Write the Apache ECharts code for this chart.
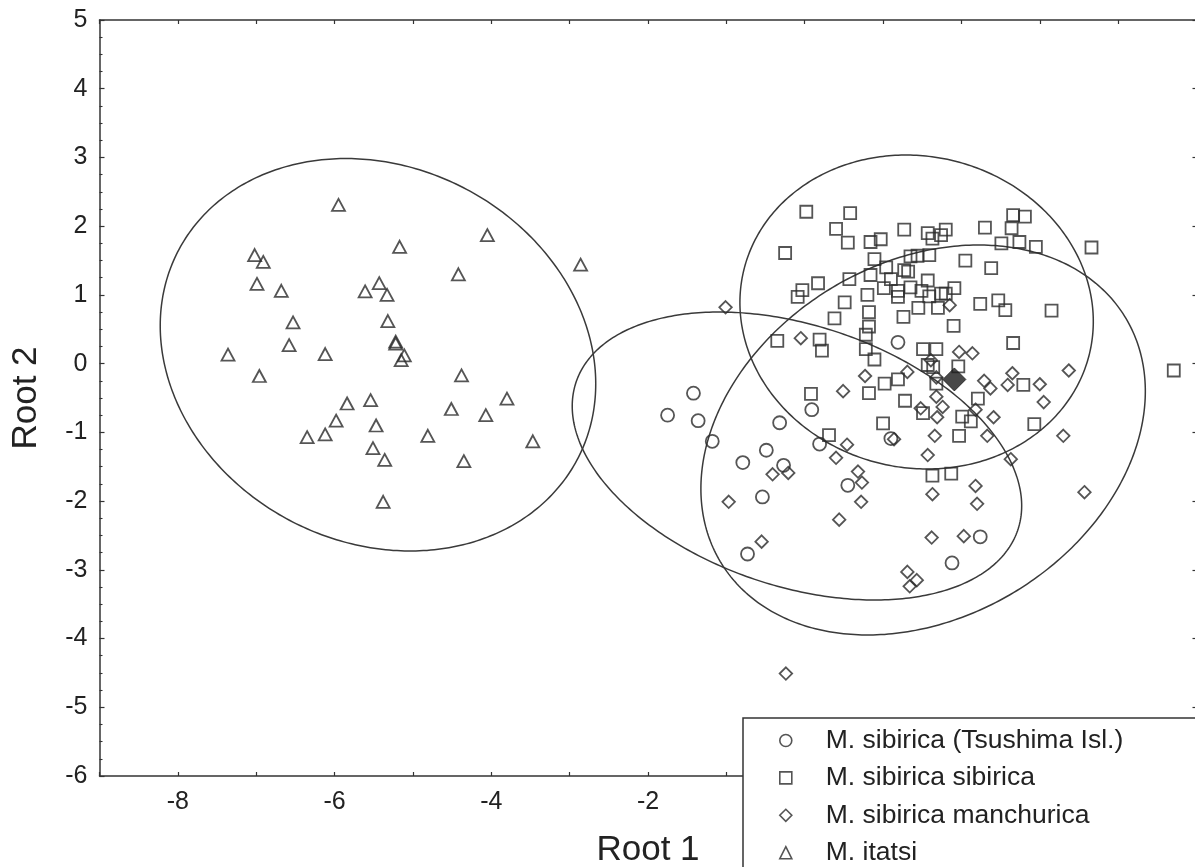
<!DOCTYPE html>
<html>
<head>
<meta charset="utf-8">
<script src="https://cdn.jsdelivr.net/npm/echarts@6/dist/echarts.min.js"></script>
<style>html,body{margin:0;padding:0;background:#fff}#c{width:1195px;height:867px}</style>
</head>
<body>
<div id="c"></div>
<script>
const seriesNames = ['M. sibirica (Tsushima Isl.)', 'M. sibirica sibirica', 'M. sibirica manchurica', 'M. itatsi'];

const tsushimaPoints = [[-1.42,-0.43],[-1.75,-0.75],[-1.36,-0.83],[-1.18,-1.13],[-0.32,-0.86],[-0.49,-1.26],[-0.79,-1.44],[-0.27,-1.48],[-0.54,-1.94],[-0.73,-2.77],[0.09,-0.67],[1.19,0.31],[0.19,-1.17],[1.10,-1.09],[0.55,-1.77],[2.24,-2.52],[1.88,-2.90]];

const sibiricaPoints = [[0.02,2.21],[0.58,2.19],[0.40,1.96],[0.55,1.76],[0.84,1.77],[0.97,1.81],[-0.25,1.61],[0.89,1.52],[1.04,1.40],[0.84,1.29],[1.10,1.23],[0.57,1.23],[0.17,1.17],[-0.03,1.07],[-0.09,0.97],[1.01,1.10],[1.19,1.06],[0.80,1.00],[1.19,0.97],[0.51,0.89],[0.82,0.75],[0.38,0.66],[0.82,0.54],[-0.35,0.33],
[1.27,1.95],[1.57,1.90],[1.63,1.82],[1.74,1.87],[1.80,1.95],[2.30,1.98],[2.66,2.16],[2.81,2.14],[2.64,1.97],[2.51,1.75],[2.74,1.77],[2.95,1.70],[3.66,1.69],[1.35,1.56],[1.44,1.57],[1.59,1.58],[2.05,1.50],[2.38,1.39],[1.27,1.36],[1.32,1.34],[1.57,1.21],[1.35,1.11],[1.49,1.06],[1.59,0.98],[1.74,1.02],[1.91,1.10],[1.80,1.02],[2.24,0.87],[2.47,0.92],[2.56,0.78],[3.15,0.77],[1.45,0.81],[1.70,0.81],[1.26,0.68],[1.90,0.55],[2.66,0.30],[1.51,0.21],[1.68,0.21],[1.57,-0.02],[1.64,-0.05],[1.96,-0.04],[2.79,-0.31],[2.21,-0.51],[4.71,-0.10],[1.28,-0.54],[1.68,-0.29],
[0.19,0.35],[0.22,0.19],[0.78,0.42],[0.78,0.21],[0.89,0.06],[0.08,-0.44],[1.02,-0.29],[1.19,-0.23],[0.82,-0.43],[1.51,-0.72],[2.01,-0.77],[2.12,-0.84],[1.00,-0.87],[0.31,-1.04],[1.97,-1.05],[2.93,-0.88],[1.63,-1.63],[1.87,-1.60]];

const manchuricaPoints = [[-1.01,0.82],[-0.05,0.37],[-0.41,-1.61],[-0.21,-1.59],[-0.97,-2.01],[-0.55,-2.59],[1.61,0.05],[1.31,-0.12],[0.77,-0.18],[1.68,-0.20],[1.85,0.85],[1.97,0.17],[2.14,0.15],[2.65,-0.14],[3.37,-0.10],[2.29,-0.25],[2.37,-0.36],[2.59,-0.31],[3.00,-0.30],[3.05,-0.56],[1.68,-0.48],[0.49,-0.40],[1.76,-0.63],[1.48,-0.65],[1.69,-0.78],[2.41,-0.78],[2.18,-0.67],[2.33,-1.05],[3.30,-1.05],[1.66,-1.05],[1.14,-1.10],[1.57,-1.33],[2.63,-1.39],[0.54,-1.18],[0.40,-1.37],[0.68,-1.57],[0.73,-1.73],[0.72,-2.01],[0.44,-2.27],[1.63,-1.90],[2.18,-1.78],[2.20,-2.04],[3.57,-1.87],[1.62,-2.53],[2.03,-2.51],[1.31,-3.03],[1.43,-3.15],[1.34,-3.24],[-0.24,-4.51]];

const itatsiPoints = [[-5.95,2.31],[-5.17,1.70],[-7.02,1.58],[-6.91,1.48],[-6.99,1.16],[-6.68,1.06],[-5.61,1.05],[-5.43,1.17],[-5.33,1.00],[-6.53,0.60],[-5.32,0.62],[-6.58,0.27],[-5.22,0.32],[-5.22,0.29],[-6.12,0.14],[-7.36,0.13],[-5.11,0.12],[-5.15,0.05],[-6.96,-0.18],[-5.84,-0.58],[-5.54,-0.53],[-5.98,-0.83],[-5.47,-0.90],[-6.35,-1.07],[-6.12,-1.03],[-4.81,-1.05],[-5.51,-1.23],[-5.36,-1.40],[-5.38,-2.01],[-4.42,1.30],[-4.05,1.87],[-2.86,1.44],[-4.38,-0.17],[-4.51,-0.66],[-4.07,-0.75],[-3.80,-0.51],[-4.35,-1.42],[-3.47,-1.13]];

const centroidPoint = [[1.91,-0.23]];

// confidence ellipses: centre x, centre y, half-width (x units), half-height (y units), correlation
const ellipseCenterX = [-5.446, -0.099, 1.511, 1.428];
const ellipseCenterY = [0.129, -1.344, -1.111, 0.751];
const ellipseHalfW   = [2.779, 2.868, 2.836, 2.255];
const ellipseHalfH   = [2.855, 2.095, 2.837, 2.284];
const ellipseRho     = [-0.148, -0.346, 0.25, -0.06];

const xTicks = {min: -9, max: 5, step: 1};
const yTicks = {min: -6, max: 5, step: 1};

const FONT = '"Liberation Sans", Arial, Helvetica, sans-serif';
const INK = '#2a2a2a';
const TXT = '#222';

const ellipseRows = ellipseCenterX.map((cx, i) => [cx, ellipseCenterY[i], ellipseHalfW[i], ellipseHalfH[i], ellipseRho[i]]);

const markerStyle = {color: 'rgba(0,0,0,0)', borderColor: INK, borderWidth: 1.8};

const chart = echarts.init(document.getElementById('c'), null, {renderer: 'canvas'});

const option = {
  backgroundColor: '#fff',
  animation: false,
  textStyle: {fontFamily: FONT},
  grid: {left: 99.5, right: -1.5, top: 20, bottom: 91, containLabel: false, outerBoundsMode: 'none'},
  legend: {
    type: 'plain',
    orient: 'vertical',
    left: 743, top: 718, width: 600, height: 220,
    data: seriesNames,
    itemWidth: 12, itemHeight: 12, itemGap: 10.4,
    padding: [9, 160, 40, 36],
    backgroundColor: '#fff', borderColor: '#333', borderWidth: 1.5, borderRadius: 0,
    selectedMode: false,
    symbolKeepAspect: true,
    itemStyle: {borderWidth: 1.6},
    textStyle: {fontFamily: FONT, fontSize: 26.5, color: TXT, lineHeight: 24, padding: [0, 0, 0, 29]},
    z: 20
  },
  xAxis: [
    {
      type: 'value', position: 'bottom', min: xTicks.min, max: xTicks.max, interval: xTicks.step,
      axisLine: {onZero: false, lineStyle: {color: '#333', width: 1.5}},
      axisTick: {inside: true, length: 4, lineStyle: {color: '#333', width: 1.2}},
      axisLabel: {formatter: v => (v % 2 === 0 ? String(v) : ''), fontSize: 25, color: TXT, margin: 14, fontFamily: FONT},
      splitLine: {show: false},
      name: 'Root 1', nameLocation: 'middle', nameGap: 57,
      nameTextStyle: {fontSize: 35, color: TXT, fontFamily: FONT}
    },
    {
      type: 'value', position: 'top', min: xTicks.min, max: xTicks.max, interval: xTicks.step,
      axisLine: {onZero: false, lineStyle: {color: '#333', width: 1.5}},
      axisTick: {inside: true, length: 4, lineStyle: {color: '#333', width: 1.2}},
      axisLabel: {show: false}, splitLine: {show: false}
    }
  ],
  yAxis: [
    {
      type: 'value', position: 'left', min: yTicks.min, max: yTicks.max, interval: yTicks.step,
      axisLine: {onZero: false, lineStyle: {color: '#333', width: 1.5}},
      axisTick: {inside: true, length: 5, lineStyle: {color: '#333', width: 1.2}},
      minorTick: {show: true, splitNumber: 4, length: 3, lineStyle: {color: '#333', width: 1.1}},
      axisLabel: {fontSize: 25, color: TXT, margin: 12, fontFamily: FONT},
      splitLine: {show: false}, minorSplitLine: {show: false},
      name: 'Root 2', nameLocation: 'middle', nameGap: 56,
      nameTextStyle: {fontSize: 35, color: TXT, fontFamily: FONT}
    },
    {
      type: 'value', position: 'right', min: yTicks.min, max: yTicks.max, interval: yTicks.step,
      axisLine: {onZero: false, lineStyle: {color: '#333', width: 1.5}},
      axisTick: {inside: true, length: 4, lineStyle: {color: '#333', width: 1.2}},
      axisLabel: {show: false}, splitLine: {show: false}
    }
  ],
  series: [
    {
      type: 'custom', name: 'ellipses', coordinateSystem: 'cartesian2d', xAxisIndex: 0, yAxisIndex: 0,
      data: ellipseRows, silent: true, z: 1, encode: {x: 0, y: 1},
      renderItem: function (params, api) {
        const cx = api.value(0), cy = api.value(1), w = api.value(2), h = api.value(3), r = api.value(4);
        const s = Math.sqrt(1 - r * r);
        const pts = [];
        const N = 360;
        for (let i = 0; i <= N; i++) {
          const t = 2 * Math.PI * i / N;
          pts.push(api.coord([cx + w * Math.cos(t), cy + h * (r * Math.cos(t) + s * Math.sin(t))]));
        }
        return {type: 'polyline', shape: {points: pts}, style: {fill: null, stroke: '#3a3a3a', lineWidth: 1.5}};
      }
    },
    {type: 'scatter', name: seriesNames[0], data: tsushimaPoints, symbol: 'circle', symbolSize: 13, itemStyle: markerStyle, z: 3},
    {type: 'scatter', name: seriesNames[1], data: sibiricaPoints, symbol: 'rect', symbolSize: 12, itemStyle: markerStyle, z: 3},
    {type: 'scatter', name: seriesNames[2], data: manchuricaPoints, symbol: 'diamond', symbolSize: 12.5, itemStyle: markerStyle, z: 3},
    {type: 'scatter', name: seriesNames[3], data: itatsiPoints, symbol: 'triangle', symbolSize: [13, 12], itemStyle: markerStyle, z: 3},
    {type: 'scatter', name: 'centroid', data: centroidPoint, symbol: 'diamond', symbolSize: 23, itemStyle: {color: '#1a1a1a', borderColor: '#1a1a1a', borderWidth: 1}, z: 4}
  ]
};

chart.setOption(option);
</script>
</body>
</html>
